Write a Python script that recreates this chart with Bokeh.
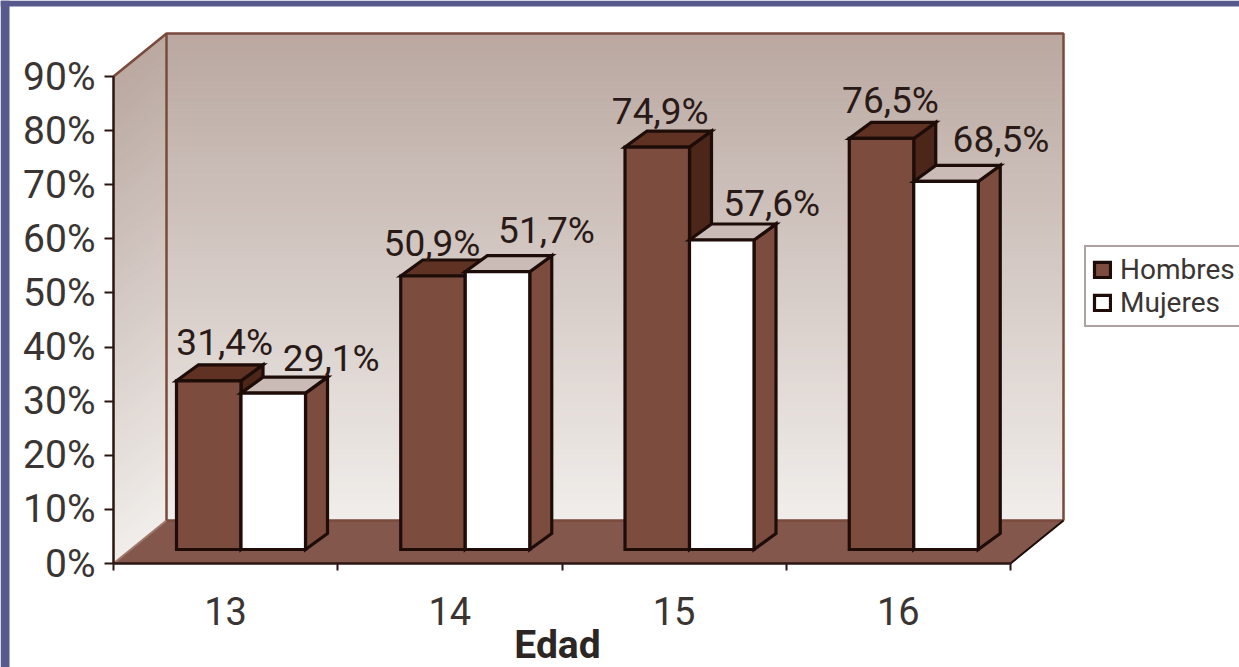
from bokeh.plotting import figure
from bokeh.models import (ColumnDataSource, FixedTicker, Legend, LegendItem, LinearAxis,
                          PrintfTickFormatter, Range1d)
from bokeh.core.properties import value
from bokeh.embed import file_html
from bokeh.resources import INLINE

# ---- data ----
edades = ["13", "14", "15", "16"]
hombres = [31.4, 50.9, 74.9, 76.5]
mujeres = [29.1, 51.7, 57.6, 68.5]
y_ticks = [0, 10, 20, 30, 40, 50, 60, 70, 80, 90]
series_names = ["Hombres", "Mujeres"]

# ---- layout / style ----
W, H = 1239, 667
X0_PX, Y0_PX = 113, 563          # pixel of category edge 0 and of 0 %
PX_PER_CAT, PX_PER_PCT = 224.25, 5.411
FONT = "Roboto"
INK = "#1d0c08"
BROWN = "#7c4c3e"
DARK = "#4c2618"
TOP_DARK = "#5f3224"
TOP_LIGHT = "#cbbbb6"
FLOOR = "#84574c"
EDGE = "#7a4a3c"
BLUE = "#585a8e"


def xd(px):
    return (px - X0_PX) / PX_PER_CAT


def yd(px):
    return (Y0_PX - px) / PX_PER_PCT


n_cat = len(edades)
wall_dx = 53 / PX_PER_CAT         # depth of the chart box
wall_dy = 43 / PX_PER_PCT
bar_dx = 22 / PX_PER_CAT          # depth of a bar
bar_dy = 16 / PX_PER_PCT
bar_base = 14 / PX_PER_PCT
bar_gain = 0.993
bar_w = 64.5 / PX_PER_CAT
group_off = 63 / PX_PER_CAT

p = figure(width=W, height=H, output_backend="svg", toolbar_location=None,
           x_range=Range1d(xd(0), xd(W)), y_range=Range1d(yd(H), yd(0)),
           x_axis_type=None, y_axis_type=None, min_border=0, outline_line_color=None,
           background_fill_color="white", border_fill_color="white")
p.grid.visible = False

# slide background strips
p.quad(left=[xd(0), xd(0)], right=[xd(9), xd(W)], bottom=[yd(H), yd(6)], top=[yd(0), yd(0)],
       fill_color=BLUE, line_color=None)

# walls with vertical gradient
N = 90
c0, c1 = (186, 168, 161), (241, 238, 235)
top_v = 90.0
side_xs, side_ys, back_l, back_r, back_b, back_t, cols = [], [], [], [], [], [], []
for i in range(N):
    a, b = i / N, (i + 1) / N
    v_hi = top_v * (1 - a)
    v_lo = top_v * (1 - b)
    side_xs.append([0, wall_dx, wall_dx, 0])
    side_ys.append([v_lo, v_lo + wall_dy, v_hi + wall_dy, v_hi])
    back_l.append(wall_dx)
    back_r.append(n_cat + wall_dx)
    back_b.append(v_lo + wall_dy)
    back_t.append(v_hi + wall_dy)
    cols.append("#%02x%02x%02x" % tuple(int(round(c0[k] + (c1[k] - c0[k]) * a)) for k in range(3)))
p.patches(side_xs, side_ys, fill_color=cols, line_color=cols, line_width=1)
p.quad(left=back_l, right=back_r, bottom=back_b, top=back_t, fill_color=cols, line_color=cols, line_width=1)

# floor
p.patch([0, n_cat, n_cat + wall_dx, wall_dx], [0, 0, wall_dy, wall_dy], fill_color=FLOOR, line_color=FLOOR)

# wall edges
p.line([0, wall_dx, n_cat + wall_dx, n_cat + wall_dx],
       [top_v, top_v + wall_dy, top_v + wall_dy, wall_dy], line_color=EDGE, line_width=2.5)
p.line([wall_dx, wall_dx, n_cat + wall_dx], [top_v + wall_dy, wall_dy, wall_dy], line_color=EDGE, line_width=2.5)
p.line([n_cat + wall_dx, n_cat], [wall_dy, 0], line_color=INK, line_width=2)
p.line([0, wall_dx], [0, wall_dy], line_color="#a0776b", line_width=2)

# bars
front_h = None
front_m = None
for i in range(n_cat):
    for s, (vals, front, side, top) in enumerate([(hombres, BROWN, DARK, TOP_DARK),
                                                  (mujeres, "white", BROWN, TOP_LIGHT)]):
        l = i + group_off + s * bar_w
        r = l + bar_w
        t = bar_base + vals[i] * bar_gain
        b = bar_base
        p.patch([r, r + bar_dx, r + bar_dx, r], [b, b + bar_dy, t + bar_dy, t],
                fill_color=side, line_color=INK, line_width=3.2, line_join="miter")
        p.patch([l, l + bar_dx, r + bar_dx, r], [t, t + bar_dy, t + bar_dy, t],
                fill_color=top, line_color=INK, line_width=3.2, line_join="miter")
        q = p.quad(left=[l], right=[r], bottom=[b], top=[t], fill_color=front,
                   line_color=INK, line_width=3.2, line_join="miter")
        if i == 0 and s == 0:
            front_h = q
        if i == 0 and s == 1:
            front_m = q

# value labels
fmt = lambda v: f"{v:.1f}%".replace(".", ",")
LABEL_LIFT = 10
h_dx, h_gap = [16, -1, 3, 9], [28, 23, 26, 28]
m_dx, m_gap = [58, 49, 50, 55], [25, 31, 27, 32]
lab = dict(x=[], y=[], text=[], xo=[], yo=[])
for i in range(n_cat):
    for s, vals, dxs, gaps in [(0, hombres, h_dx, h_gap), (1, mujeres, m_dx, m_gap)]:
        lab["x"].append(i + group_off + (s + 0.5) * bar_w)
        lab["y"].append(bar_base + vals[i] * bar_gain)
        lab["text"].append(fmt(vals[i]))
        lab["xo"].append(dxs[i])
        lab["yo"].append(-gaps[i] - LABEL_LIFT)
p.text("x", "y", text="text", x_offset="xo", y_offset="yo", source=ColumnDataSource(lab),
       text_font=value(FONT), text_font_size="37px", text_color="#2a1a17", text_align="center",
       text_baseline="alphabetic", text_font_style="normal")

# axes
y_ax = LinearAxis(ticker=FixedTicker(ticks=y_ticks), formatter=PrintfTickFormatter(format="%d%%"),
                  fixed_location=0, bounds=(0, 90), axis_line_color="#2a1512", axis_line_width=2.5,
                  major_tick_line_color="#2a1512", major_tick_line_width=2, major_tick_out=9, major_tick_in=0,
                  minor_tick_out=0, minor_tick_in=0, major_label_standoff=9,
                  major_label_text_font=FONT, major_label_text_font_size="39px",
                  major_label_text_color="#3a3533")
p.add_layout(y_ax, "left")

cat_centres = [i + 0.5 for i in range(n_cat)]
x_ax = LinearAxis(ticker=FixedTicker(ticks=cat_centres, minor_ticks=list(range(n_cat + 1))),
                  major_label_overrides={c: e for c, e in zip(cat_centres, edades)},
                  fixed_location=0, bounds=(0, n_cat), axis_line_color="#2a1512", axis_line_width=2.5,
                  major_tick_out=0, major_tick_in=0, minor_tick_line_color="#2a1512",
                  minor_tick_line_width=2, minor_tick_out=7, minor_tick_in=0,
                  major_label_standoff=26,
                  major_label_text_font=FONT, major_label_text_font_size="38px",
                  major_label_text_color="#3a3533")
p.add_layout(x_ax, "below")

p.text([(n_cat) / 2 - 0.02], [yd(644)], text=["Edad"], text_font=value(FONT), text_font_size="39px",
       text_font_style="bold", text_color="#2c2624", text_align="center", text_baseline="middle")

legend = Legend(items=[LegendItem(label=series_names[0], renderers=[front_h]),
                       LegendItem(label=series_names[1], renderers=[front_m])],
                location=(1084, H - 327), orientation="vertical",
                label_text_font=FONT, label_text_font_size="28px", label_text_color="#3a3533",
                glyph_width=20, glyph_height=19, label_standoff=8, spacing=0, padding=6,
                border_line_color="#5a4540", border_line_width=2, background_fill_color="white",
                background_fill_alpha=1.0, label_height=24)
p.add_layout(legend, "center")

open("out.html", "w").write(file_html(p, INLINE))
